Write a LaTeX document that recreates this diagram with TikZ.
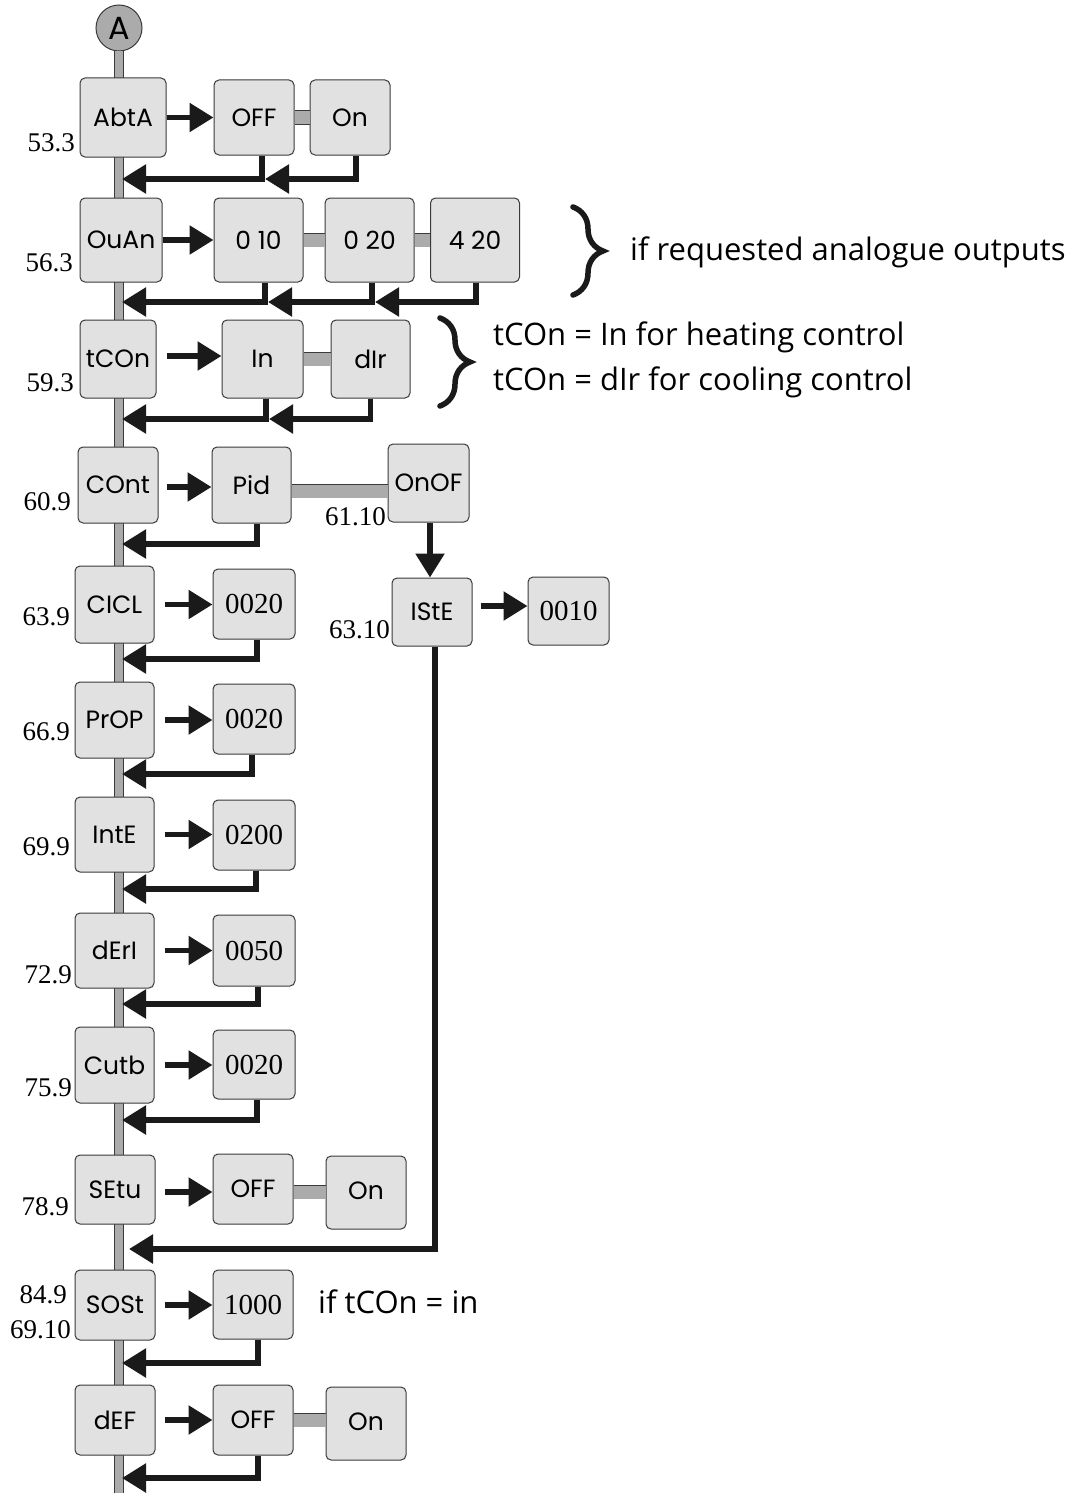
\documentclass[tikz,border=0pt]{standalone}
\usepackage{fontspec}
\setmainfont{Liberation Serif}
\newfontfamily\boxfont{Poppins}
\newfontfamily\notefont{Open Sans}
\usetikzlibrary{arrows.meta,positioning,calc,decorations.pathreplacing}
\definecolor{boxgrey}{HTML}{E1E1E1}
\definecolor{bargrey}{HTML}{ABABAB}
\definecolor{edge}{HTML}{3A3A3A}
\definecolor{ink}{HTML}{1A1A1A}

\begin{document}
\begin{tikzpicture}[x=1pt,y=-1pt,
  par/.style={draw=edge,fill=boxgrey,rounded corners=5pt,line width=1pt,
              minimum width=80pt,minimum height=76pt,inner sep=0pt,
              font=\boxfont\fontsize{25}{27}\selectfont},
  opt/.style={par},
  num/.style={par,font=\fontsize{29}{30}\selectfont},
  entry/.style={circle,draw=edge,fill=bargrey,line width=1pt,minimum size=46pt,
                inner sep=0pt,font=\boxfont\fontsize{32}{32}\selectfont},
  code/.style={font=\fontsize{27}{28}\selectfont,anchor=east,inner sep=0pt},
  note/.style={font=\notefont\fontsize{31}{34}\selectfont,anchor=west,inner sep=0pt},
  go/.style={-{Triangle[length=24pt,width=28pt]},line width=5.5pt,ink},
  back/.style={go},
  link/.style={draw=edge,line width=0.8pt,double=bargrey,double distance=13pt},
  spine/.style={draw=edge,line width=0.8pt,double=bargrey,double distance=8pt},
  curly/.style={decorate,decoration={brace,amplitude=30pt},line width=5.5pt,
                line cap=round,ink}]
\useasboundingbox (0,0) rectangle (1079,1493);

% main line
\node[entry] (start) at (119,28) {A};
\coordinate (foot) at (118,1493);
\draw[spine] (start.south) -- (start.south |- foot);

% AbtA
\node[par,minimum width=86pt,minimum height=79pt] (abta) at (123,117.5) {AbtA};
\node[opt,minimum height=75pt] (abtaoff) at (254,117.5) {OFF};
\node[opt,minimum height=75pt] (abtaon) at (350,117.5) {On};
\node[code] (abtacode) at (75,143) {53.3};
\draw[link] (abtaoff) -- (abtaon);
\draw[go] (abta.east) -- (abta.east -| abtaoff.west);
\coordinate (abtaret) at (122,179);
\coordinate (abtaret2) at (265,179);
\draw[back] ([xshift=8pt]abtaoff.south) |- (abtaret);
\draw[back] ([xshift=6pt]abtaon.south) |- (abtaret2);

% OuAn
\node[par,minimum width=82pt,minimum height=84pt] (ouan) at (121,240) {OuAn};
\node[opt,minimum width=89pt,minimum height=84pt] (ouan10) at (258.5,240) {0 10};
\node[opt,minimum width=89pt,minimum height=84pt] (ouan20) at (369.5,240) {0 20};
\node[opt,minimum width=89pt,minimum height=84pt] (ouan420) at (475,240) {4 20};
\node[code] (ouancode) at (73,263) {56.3};
\draw[link] (ouan10) -- (ouan20);
\draw[link] (ouan20) -- (ouan420);
\draw[go] (ouan.east) -- (ouan.east -| ouan10.west);
\coordinate (ouanret) at (122,302);
\coordinate (ouanret2) at (268,302);
\coordinate (ouanret3) at (375,302);
\draw[back] ([xshift=6.5pt]ouan10.south) |- (ouanret);
\draw[back] ([xshift=2.5pt]ouan20.south) |- (ouanret2);
\draw[back] ([xshift=1pt]ouan420.south) |- (ouanret3);
\draw[curly] (573,207) -- (573,295);
\node[note] (ouannote) at (630,252) {if requested analogue outputs};

% tCOn
\node[par,minimum width=76pt,minimum height=78pt] (tcon) at (118,359) {tCOn};
\node[opt,minimum width=81pt,minimum height=78pt] (tconin) at (262.5,359) {In};
\node[opt,minimum width=79pt,minimum height=78pt] (tcondir) at (370.5,359) {dIr};
\node[code] (tconcode) at (74,383) {59.3};
\draw[link] (tconin) -- (tcondir);
\draw[go] ([xshift=10pt,yshift=3pt]tcon.east) -- ([yshift=3pt]tcon.east -| tconin.west);
\coordinate (tconret) at (122,419);
\coordinate (tconret2) at (269,419);
\draw[back] ([xshift=3.5pt]tconin.south) |- (tconret);
\draw[back] (tcondir.south) |- (tconret2);
\draw[curly] (440,318) -- (440,406);
\node[note] (tconnote1) at (493,337) {tCOn = In for heating control};
\node[note] (tconnote2) at (493,382) {tCOn = dIr for cooling control};

% COnt
\node[par,minimum width=80pt,minimum height=76pt] (cont) at (118,485) {COnt};
\node[opt,minimum width=79pt,minimum height=76pt] (contpid) at (251.5,485) {Pid};
\node[opt,minimum width=81pt,minimum height=78pt] (contonof) at (428.5,483) {OnOF};
\node[code] (contcode) at (71,502) {60.9};
\node[code] (onofcode) at (386,517) {61.10};
\draw[link] ([yshift=-6pt]contpid.east) -- ([yshift=-6pt]contpid.east -| contonof.west);
\draw[go] ([xshift=8pt,yshift=-2pt]cont.east) -- ([yshift=-2pt]cont.east -| contpid.west);
\coordinate (contret) at (122,544);
\draw[back] ([xshift=5.5pt]contpid.south) |- (contret);

% IStE
\node[par,minimum width=80pt,minimum height=68pt] (iste) at (432,612) {IStE};
\node[num,minimum width=81pt,minimum height=68pt] (isteval) at (568.5,611) {0010};
\node[code] (istecode) at (390,630) {63.10};
\draw[go] ([xshift=1.5pt]contonof.south) -- ([xshift=-2pt]iste.north);
\draw[go] ([xshift=8pt,yshift=6pt]iste.east) -- ([yshift=6pt]iste.east -| isteval.west);

% CICL
\node[par,minimum width=79pt,minimum height=77pt] (cicl) at (114.5,604.5) {CICL};
\node[num,minimum width=82pt,minimum height=70pt] (ciclval) at (254,604) {0020};
\node[code] (ciclcode) at (70,617) {63.9};
\draw[go] ([xshift=10pt]cicl.east) -- (cicl.east -| ciclval.west);
\coordinate (ciclret) at (122,659);
\draw[back] ([xshift=3pt]ciclval.south) |- (ciclret);

% PrOP
\node[par,minimum width=79pt,minimum height=76pt] (prop) at (114.5,720) {PrOP};
\node[num,minimum width=82pt,minimum height=70pt] (propval) at (254,719) {0020};
\node[code] (propcode) at (70,732) {66.9};
\draw[go] ([xshift=10pt]prop.east) -- (prop.east -| propval.west);
\coordinate (propret) at (122,774);
\draw[back] ([xshift=-2pt]propval.south) |- (propret);

% IntE
\node[par,minimum width=79pt,minimum height=75pt] (inte) at (114.5,834.5) {IntE};
\node[num,minimum width=82pt,minimum height=70pt] (inteval) at (254,835) {0200};
\node[code] (intecode) at (70,847) {69.9};
\draw[go] ([xshift=10pt]inte.east) -- (inte.east -| inteval.west);
\coordinate (interet) at (122,889);
\draw[back] ([xshift=2pt]inteval.south) |- (interet);

% dErI
\node[par,minimum width=79pt,minimum height=75pt] (deri) at (114.5,950.5) {dErI};
\node[num,minimum width=82pt,minimum height=71pt] (derival) at (254,950.5) {0050};
\node[code] (dericode) at (72,975) {72.9};
\draw[go] ([xshift=10pt]deri.east) -- (deri.east -| derival.west);
\coordinate (deriret) at (122,1004);
\draw[back] ([xshift=4pt]derival.south) |- (deriret);

% Cutb
\node[par,minimum width=79pt,minimum height=76pt] (cutb) at (114.5,1065) {Cutb};
\node[num,minimum width=82pt,minimum height=69pt] (cutbval) at (254,1064.5) {0020};
\node[code] (cutbcode) at (72,1088) {75.9};
\draw[go] ([xshift=10pt]cutb.east) -- (cutb.east -| cutbval.west);
\coordinate (cutbret) at (122,1120);
\draw[back] ([xshift=3pt]cutbval.south) |- (cutbret);

% SEtu
\node[par,minimum height=69pt] (setu) at (115,1189.5) {SEtu};
\node[opt,minimum height=70pt] (setuoff) at (253,1189) {OFF};
\node[opt,minimum height=73pt] (setuon) at (366,1192.5) {\raisebox{4pt}{On}};
\node[code] (setucode) at (69,1207) {78.9};
\draw[link] ([yshift=-3pt]setuoff.east) -- ([yshift=-3pt]setuoff.east -| setuon.west);
\draw[go] ([xshift=9pt,yshift=-2.5pt]setu.east) -- ([yshift=-2.5pt]setu.east -| setuoff.west);
\coordinate (isteret) at (129,1249);
\draw[back] ([xshift=3pt]iste.south) |- (isteret);

% SOSt
\node[par,minimum height=70pt] (sost) at (115,1305) {SOSt};
\node[num,minimum height=69pt] (sostval) at (253,1304.5) {1000};
\node[code] (sostcode) at (67,1295) {84.9};
\node[code] (sostcode2) at (71,1330) {69.10};
\node[note] (sostnote) at (318,1302) {if tCOn = in};
\draw[go] ([xshift=9pt]sost.east) -- (sost.east -| sostval.west);
\coordinate (sostret) at (122,1363);
\draw[back] ([xshift=5pt]sostval.south) |- (sostret);

% dEF
\node[par,minimum height=70pt] (def) at (115,1420) {dEF};
\node[opt,minimum height=70pt] (defoff) at (253,1420) {OFF};
\node[opt,minimum height=73pt] (defon) at (366,1423.5) {\raisebox{4pt}{On}};
\draw[link] (defoff.east) -- (defoff.east -| defon.west);
\draw[go] ([xshift=9pt]def.east) -- (def.east -| defoff.west);
\coordinate (defret) at (122,1478);
\draw[back] ([xshift=5pt]defoff.south) |- (defret);
\end{tikzpicture}
\end{document}
